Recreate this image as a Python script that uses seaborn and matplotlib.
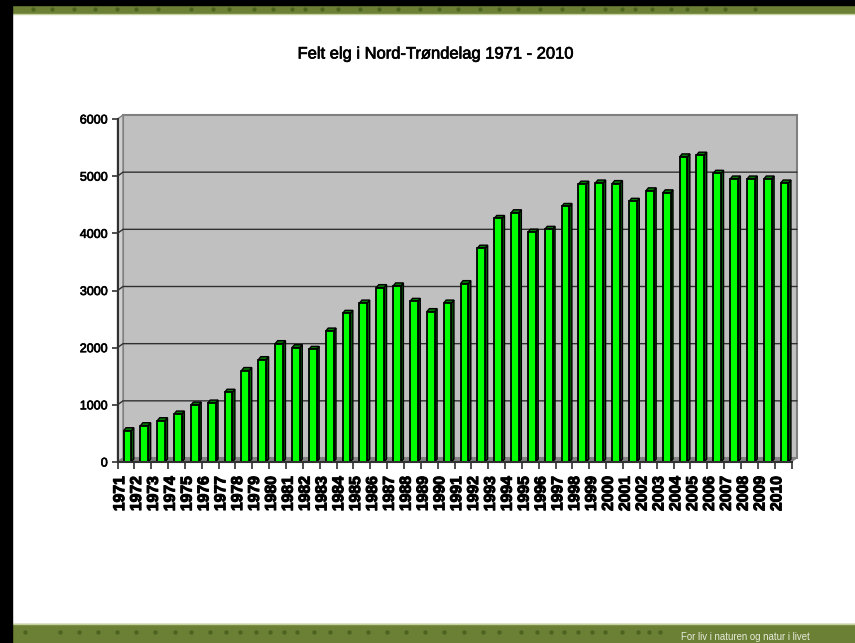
"""
Felt elg i Nord-Trøndelag 1971 - 2010 (3D-look bar chart on a slide)
"""
import matplotlib
matplotlib.use('Agg')
import matplotlib.pyplot as plt
import matplotlib.patches as mpatches
import matplotlib.patheffects as pe
import seaborn as sns
import pandas as pd

years = [str(y) for y in range(1971, 2011)]
felt = [547, 635, 722, 839, 996, 1031, 1220, 1600, 1790, 2070,
        2000, 1970, 2290, 2600, 2780, 3050, 3080, 2810, 2630, 2780,
        3120, 3740, 4260, 4360, 4020, 4070, 4470, 4860, 4880, 4870,
        4560, 4743, 4708, 5337, 5367, 5050, 4950, 4950, 4950, 4880]
yticks = [0, 1000, 2000, 3000, 4000, 5000, 6000]
title = 'Felt elg i Nord-Trøndelag 1971 - 2010'
slogan = 'For liv i naturen og natur i livet'

# decorative dots in the slide's green bands (pixel x)
top_dots = [33, 52, 74, 95, 117, 136, 158, 191, 213, 229, 254, 273, 292, 305, 322, 338,
            360, 379, 398, 420, 439, 458, 480, 499, 518, 540, 562, 583, 605, 622, 635,
            652, 671, 687, 706, 725, 755]
bottom_dots = [25, 60, 79, 98, 117, 136, 155, 175, 191, 210, 226, 240, 256, 270, 284,
               297, 314, 330, 349, 368, 387, 406, 425, 444, 464, 483, 499, 521, 537,
               551, 564, 578, 592, 605, 622, 638, 649, 660]

W, H = 855, 643
BAND = '#6B8035'
DOT = '#4C6420'
sns.set_theme(style='white')
plt.rcParams['font.family'] = ['Liberation Sans', 'DejaVu Sans']

fig = plt.figure(figsize=(W / 100, H / 100), dpi=100, facecolor='white')

# ---- slide background, in pixels ----
bg = fig.add_axes([0, 0, 1, 1], zorder=0)
bg.set_xlim(0, W)
bg.set_ylim(H, 0)
bg.axis('off')
bg.add_patch(mpatches.Rectangle((0, 5), W, 8, color=BAND))
bg.add_patch(mpatches.Rectangle((0, 624), W, 19, color=BAND))
bg.plot([0, W], [13.5, 13.5], color='#C5D2A0', lw=1)
bg.plot([0, W], [623.5, 623.5], color='#C5D2A0', lw=1)
bg.scatter(top_dots, [9] * len(top_dots), s=9, color=DOT, linewidths=0)
bg.scatter(bottom_dots, [632] * len(bottom_dots), s=10, color=DOT, linewidths=0)
bg.add_patch(mpatches.Rectangle((0, 0), W, 5, color='black', zorder=3))
bg.add_patch(mpatches.Rectangle((0, 0), 11.5, H, color='black', zorder=3))
bg.text(745.5, 637, slogan, color='#E8EDDC', fontsize=6.9, ha='center', va='center')
bg.text(436, 54, title, color='black', fontsize=11.9, ha='center', va='center',
        path_effects=[pe.withStroke(linewidth=0.5, foreground='black')])

# ---- plot ----
left, right, top, bottom = 117.5, 791.5, 119, 462
ax = fig.add_axes([left / W, 1 - bottom / H, (right - left) / W, (bottom - top) / H], zorder=1)
ax.patch.set_alpha(0)
df = pd.DataFrame({'year': years, 'felt': felt})
sns.barplot(data=df, x='year', y='felt', ax=ax, color='#00FF00', width=0.46,
            saturation=1, edgecolor='black', linewidth=1.3, zorder=4)
ax.set_xlim(-0.5, len(years) - 0.5)
ax.set_ylim(0, 6000)

ux = (right - left) / len(years)
uy = (bottom - top) / 6000
wall_dx, wall_dy = 5.5 / ux, 4 / uy
bar_dx, bar_dy = 2.5 / ux, 3 / uy
x0, x1 = ax.get_xlim()


def poly(pts, **kw):
    ax.add_patch(mpatches.Polygon(pts, closed=True, clip_on=False, **kw))


# walls and floor
poly([(x0 + wall_dx, wall_dy), (x1 + wall_dx, wall_dy), (x1 + wall_dx, 6000 + wall_dy),
      (x0 + wall_dx, 6000 + wall_dy)], facecolor='#C0C0C0', edgecolor='#808080', lw=1.5, zorder=1)
poly([(x0, 0), (x0 + wall_dx, wall_dy), (x0 + wall_dx, 6000 + wall_dy), (x0, 6000)],
     facecolor='#CFCFCF', edgecolor='#808080', lw=1, zorder=1)
poly([(x0, 0), (x1, 0), (x1 + wall_dx, wall_dy), (x0 + wall_dx, wall_dy)],
     facecolor='#808080', edgecolor='#808080', lw=0.5, zorder=2)

# gridlines on the back wall
for v in yticks[1:-1]:
    ax.plot([x0, x0 + wall_dx, x1 + wall_dx], [v, v + wall_dy, v + wall_dy],
            color='#303030', lw=1, clip_on=False, zorder=2)

# 3D side and cap for every bar, nudged right to sit like the original
for p in ax.patches[:len(years)]:
    p.set_x(p.get_x() + 1.5 / ux)
    xa, xb, h = p.get_x(), p.get_x() + p.get_width(), p.get_height()
    poly([(xb, 0), (xb + bar_dx, bar_dy), (xb + bar_dx, h + bar_dy), (xb, h)],
         facecolor='#005A00', edgecolor='black', lw=1, zorder=3)
    poly([(xa, h), (xb, h), (xb + bar_dx, h + bar_dy), (xa + bar_dx, h + bar_dy)],
         facecolor='#007A00', edgecolor='black', lw=1, zorder=3)

# axes
sns.despine(ax=ax, top=True, right=True)
for s in ('left', 'bottom'):
    ax.spines[s].set_color('#303030')
    ax.spines[s].set_linewidth(1.5)
    ax.spines[s].set_zorder(5)
ax.set_xlabel('')
ax.set_ylabel('')
ax.set_yticks(yticks)
ax.set_xticks([i - 0.5 for i in range(len(years) + 1)], minor=False)
ax.set_xticklabels([])
ax.tick_params(axis='y', length=4, width=1.2, color='#303030', labelsize=9, pad=3,
               left=True, labelcolor='black')
ax.tick_params(axis='x', length=5, width=1.2, color='#303030', bottom=True)
for t in ax.get_yticklabels():
    t.set_path_effects([pe.withStroke(linewidth=0.5, foreground='black')])
for i, y in enumerate(years):
    ax.annotate(y, (i, 0), xytext=(-4.5, -10), textcoords='offset points', rotation=90,
                ha='center', va='top', fontsize=11.3, fontweight='bold', color='black',
                path_effects=[pe.withStroke(linewidth=0.8, foreground='black')])

fig.savefig('out.png', dpi=100, facecolor='white')
